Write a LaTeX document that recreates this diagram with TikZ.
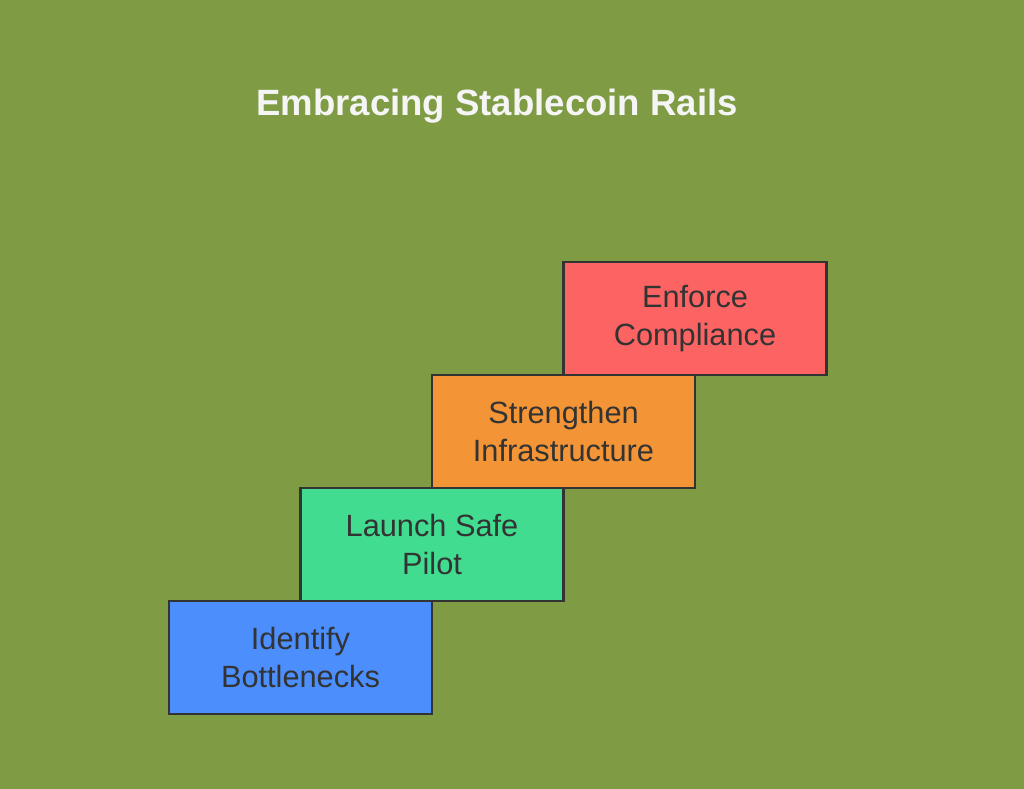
\documentclass[tikz,border=0pt]{standalone}
\usepackage{fontspec}
\setmainfont{Liberation Sans}
\usetikzlibrary{positioning}
\definecolor{bgolive}{HTML}{7F9C45}
\definecolor{stepblue}{HTML}{4C8EFC}
\definecolor{stepgreen}{HTML}{42DC90}
\definecolor{steporange}{HTML}{F39536}
\definecolor{stepred}{HTML}{FC6464}
\definecolor{inkgray}{HTML}{333333}
\definecolor{titlewhite}{HTML}{F5F5F5}
\tikzset{
  stairbox/.style={draw=inkgray, line width=1.7pt, minimum width=5.26cm,
    minimum height=2.26cm, align=center, text=inkgray, outer sep=0pt,
    font=\fontsize{17.5}{21.6}\selectfont, inner sep=0pt}
}
\begin{document}
\begin{tikzpicture}
      \fill[bgolive] (0,0) rectangle (20.48,15.78);
      \useasboundingbox (0,0) rectangle (20.48,15.78);
      \node[text=titlewhite, font=\fontsize{20.8}{25}\bfseries] (title) at (9.94,13.66) {Embracing Stablecoin Rails};
      \node[stairbox, fill=stepblue] (s1) at (6.01,2.63) {Identify\\Bottlenecks};
      \node[stairbox, fill=stepgreen, anchor=south west] (s2) at (s1.north) {Launch Safe\\Pilot};
      \node[stairbox, fill=steporange, anchor=south west] (s3) at (s2.north) {Strengthen\\Infrastructure};
      \node[stairbox, fill=stepred, anchor=south west] (s4) at (s3.north) {Enforce\\Compliance};
    \end{tikzpicture}
\end{document}
